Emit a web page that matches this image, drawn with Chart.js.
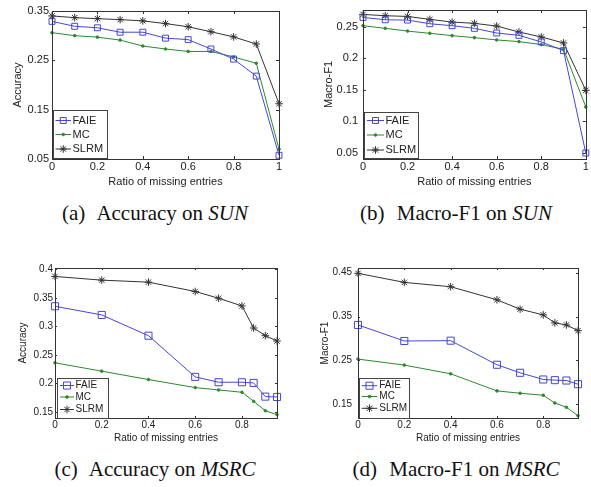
<!DOCTYPE html>
<html>
<head>
<meta charset="utf-8">
<script src="https://cdn.jsdelivr.net/npm/chart.js@4.4.0/dist/chart.umd.min.js"></script>
<style>
  body { margin: 0; background: #fff; width: 591px; height: 487px; position: relative; overflow: hidden; }
  canvas { position: absolute; }
  .cap { position: absolute; font-family: "Liberation Serif", "Times New Roman", serif; font-size: 21px;
         line-height: 21px; white-space: nowrap; transform: translateX(-50%); color: #111; }
  .cap b { font-weight: normal; margin-right: 7px; }
</style>
</head>
<body>
<canvas id="chartA" width="290" height="195" style="left:0;top:0"></canvas>
<canvas id="chartB" width="291" height="195" style="left:300px;top:0"></canvas>
<canvas id="chartC" width="290" height="200" style="left:0;top:245px"></canvas>
<canvas id="chartD" width="291" height="200" style="left:300px;top:245px"></canvas>

<div class="cap" style="left:155px;top:203px"><b>(a)</b> Accuracy on <i>SUN</i></div>
<div class="cap" style="left:456px;top:203px"><b>(b)</b> Macro-F1 on <i>SUN</i></div>
<div class="cap" style="left:155px;top:459px"><b>(c)</b> Accuracy on <i>MSRC</i></div>
<div class="cap" style="left:456px;top:459px"><b>(d)</b> Macro-F1 on <i>MSRC</i></div>

<script>
// ratio of missing entries
const xSun = [0, 0.1, 0.2, 0.3, 0.4, 0.5, 0.6, 0.7, 0.8, 0.9, 1];
const xMsrc = [0, 0.2, 0.4, 0.6, 0.7, 0.8, 0.85, 0.9, 0.95];

// (a) accuracy on SUN
const accSunFAIE = [0.329, 0.319, 0.316, 0.307, 0.307, 0.295, 0.292, 0.273, 0.2525, 0.218, 0.0575];
const accSunMC   = [0.306, 0.300, 0.297, 0.291, 0.279, 0.273, 0.268, 0.268, 0.257, 0.244, 0.070];
const accSunSLRM = [0.340, 0.3365, 0.3345, 0.3325, 0.330, 0.3245, 0.318, 0.308, 0.2975, 0.283, 0.162];

// (b) macro-F1 on SUN
const f1SunFAIE = [0.2647, 0.261, 0.2605, 0.2547, 0.2516, 0.2474, 0.240, 0.2363, 0.2258, 0.212, 0.0495];
const f1SunMC   = [0.2516, 0.2474, 0.243, 0.2395, 0.2358, 0.2326, 0.229, 0.2263, 0.2216, 0.2142, 0.1226];
const f1SunSLRM = [0.2695, 0.2674, 0.2663, 0.2616, 0.2574, 0.2553, 0.251, 0.2416, 0.2337, 0.2242, 0.149];

// (c) accuracy on MSRC
const accMsrcFAIE = [0.3354, 0.3202, 0.2838, 0.2116, 0.2022, 0.2022, 0.201, 0.177, 0.1764];
const accMsrcMC   = [0.2363, 0.2216, 0.2069, 0.1928, 0.1887, 0.1846, 0.1688, 0.1523, 0.1453];
const accMsrcSLRM = [0.3877, 0.3812, 0.3777, 0.3613, 0.3495, 0.336, 0.2973, 0.2838, 0.2744];

// (d) macro-F1 on MSRC
const f1MsrcFAIE = [0.3309, 0.2943, 0.295, 0.2401, 0.2218, 0.2065, 0.205, 0.2042, 0.1958];
const f1MsrcMC   = [0.253, 0.2393, 0.2195, 0.1805, 0.1752, 0.1706, 0.153, 0.1431, 0.124];
const f1MsrcSLRM = [0.4485, 0.4279, 0.418, 0.3882, 0.3668, 0.3538, 0.3355, 0.3309, 0.3179];

// tick labels
const xTicksSun = [0, 0.2, 0.4, 0.6, 0.8, 1];
const xTicksMsrc = [0, 0.2, 0.4, 0.6, 0.8];
const yTicksA = [0.05, 0.15, 0.25, 0.35];
const yTicksB = [0.05, 0.1, 0.15, 0.2, 0.25];
const yTicksC = [0.15, 0.2, 0.25, 0.3, 0.35, 0.4];
const yTicksD = [0.15, 0.25, 0.35, 0.45];

const FONT = '"Liberation Sans", Arial, sans-serif';
const TEXT = '#222';

// box around the axes, inward ticks, and the legend inside the plot
const framePlugin = {
  id: 'frame',
  afterDraw(chart, args, opts) {
    const { ctx, chartArea: a, scales } = chart;
    ctx.save();
    ctx.strokeStyle = '#333';
    ctx.lineWidth = 1;
    ctx.strokeRect(Math.round(a.left) + 0.5, Math.round(a.top) + 0.5,
      Math.round(a.right - a.left), Math.round(a.bottom - a.top));
    const tl = opts.tick;
    ctx.beginPath();
    scales.x.ticks.forEach(t => {
      const px = Math.round(scales.x.getPixelForValue(t.value)) + 0.5;
      ctx.moveTo(px, a.bottom); ctx.lineTo(px, a.bottom - tl);
      ctx.moveTo(px, a.top); ctx.lineTo(px, a.top + tl);
    });
    scales.y.ticks.forEach(t => {
      const py = Math.round(scales.y.getPixelForValue(t.value)) + 0.5;
      ctx.moveTo(a.left, py); ctx.lineTo(a.left + tl, py);
      ctx.moveTo(a.right, py); ctx.lineTo(a.right - tl, py);
    });
    ctx.stroke();

    const lg = opts.legend;
    ctx.fillStyle = '#fff';
    ctx.fillRect(lg.x, lg.y, lg.w, lg.h);
    ctx.strokeStyle = '#444';
    ctx.strokeRect(lg.x + 0.5, lg.y + 0.5, lg.w, lg.h);
    ctx.font = lg.size + 'px ' + FONT;
    ctx.textBaseline = 'middle';
    chart.data.datasets.forEach((ds, i) => {
      const y = lg.rows[i];
      ctx.strokeStyle = ds.borderColor;
      ctx.lineWidth = 1;
      ctx.beginPath();
      ctx.moveTo(lg.x1, y); ctx.lineTo(lg.x2, y);
      ctx.stroke();
      ctx.fillStyle = ds.pointBackgroundColor;
      Chart.helpers.drawPoint(ctx, { pointStyle: ds.pointStyle, radius: ds.pointRadius, borderWidth: 1, rotation: 0 },
        (lg.x1 + lg.x2) / 2, y);
      ctx.fillStyle = TEXT;
      ctx.fillText(ds.label, lg.tx, y);
    });
    ctx.restore();
  }
};

function series(xs, ys) {
  return xs.map((x, i) => ({ x: x, y: ys[i] }));
}

function makeChart(id, xs, faie, mc, slrm, g) {
  const ctx = document.getElementById(id).getContext('2d');
  const W = ctx.canvas.width, H = ctx.canvas.height;
  return new Chart(ctx, {
    type: 'line',
    data: {
      datasets: [
        { label: 'FAIE', data: series(xs, faie), borderColor: '#4646d6', borderWidth: 1,
          pointStyle: 'rect', pointRadius: g.sq, pointBorderWidth: 1,
          pointBorderColor: '#4646d6', pointBackgroundColor: 'rgba(255,255,255,0)' },
        { label: 'MC', data: series(xs, mc), borderColor: '#2b8a2b', borderWidth: 1,
          pointStyle: 'circle', pointRadius: 1.3, pointBorderWidth: 1,
          pointBorderColor: '#2b8a2b', pointBackgroundColor: '#2b8a2b' },
        { label: 'SLRM', data: series(xs, slrm), borderColor: '#333333', borderWidth: 1,
          pointStyle: 'star', pointRadius: g.star, pointBorderWidth: 1,
          pointBorderColor: '#333333', pointBackgroundColor: '#333333' }
      ]
    },
    options: {
      responsive: false,
      animation: false,
      clip: false,
      layout: { padding: { top: g.top, right: W - g.right, left: 0, bottom: 0 } },
      plugins: {
        legend: { display: false },
        tooltip: { enabled: false },
        frame: { tick: g.tick, legend: g.legend }
      },
      scales: {
        x: {
          type: 'linear', min: g.xmin, max: g.xmax,
          afterBuildTicks: s => { s.ticks = g.xticks.map(v => ({ value: v })); },
          afterFit: s => { s.height = H - g.bottom; s.paddingLeft = 0; s.paddingRight = 0; },
          grid: { display: false, drawTicks: false },
          border: { display: false },
          ticks: { padding: g.xpad, autoSkip: false, maxRotation: 0, color: TEXT,
                   font: { size: g.fs, family: FONT }, callback: v => String(v) },
          title: { display: true, text: 'Ratio of missing entries', color: TEXT,
                   font: { size: g.fs, family: FONT }, padding: { top: 0, bottom: g.xtitle } }
        },
        y: {
          type: 'linear', min: g.ymin, max: g.ymax,
          afterBuildTicks: s => { s.ticks = g.yticks.map(v => ({ value: v })); },
          afterFit: s => { s.width = g.left; s.paddingTop = 0; s.paddingBottom = 0; },
          grid: { display: false, drawTicks: false },
          border: { display: false },
          ticks: { padding: g.ypad, autoSkip: false, color: TEXT,
                   font: { size: g.fs, family: FONT }, callback: v => String(v) },
          title: { display: true, text: g.ytitle, color: TEXT,
                   font: { size: g.fs, family: FONT }, padding: { top: g.ytpad, bottom: 0 } }
        }
      }
    },
    plugins: [framePlugin]
  });
}

makeChart('chartA', xSun, accSunFAIE, accSunMC, accSunSLRM, {
  left: 52, top: 11, right: 279, bottom: 159, fs: 11, xpad: 1, xtitle: 6, ypad: 3, ytpad: 11,
  xmin: 0, xmax: 1, ymin: 0.05, ymax: 0.35, xticks: xTicksSun, yticks: yTicksA, ytitle: 'Accuracy',
  sq: 4.2, star: 3.8, tick: 3,
  legend: { x: 53, y: 110, w: 54, h: 48, rows: [120.5, 134.5, 149], x1: 55.5, x2: 71, tx: 72.5, size: 11 }
});

makeChart('chartB', xSun, f1SunFAIE, f1SunMC, f1SunSLRM, {
  left: 63, top: 10, right: 290, bottom: 159, fs: 11, xpad: 1, xtitle: 6, ypad: 5, ytpad: 22,
  xmin: 0, xmax: 1, ymin: 0.04, ymax: 0.2765, xticks: xTicksSun, yticks: yTicksB, ytitle: 'Macro-F1',
  sq: 4.2, star: 3.8, tick: 3,
  legend: { x: 64, y: 112, w: 54, h: 46, rows: [120.5, 135, 150], x1: 67, x2: 84, tx: 85.5, size: 11 }
});

makeChart('chartC', xMsrc, accMsrcFAIE, accMsrcMC, accMsrcSLRM, {
  left: 55, top: 23, right: 277, bottom: 173, fs: 10, xpad: 1, xtitle: 1, ypad: 2, ytpad: 17,
  xmin: 0, xmax: 0.95, ymin: 0.1395, ymax: 0.4025, xticks: xTicksMsrc, yticks: yTicksC, ytitle: 'Accuracy',
  sq: 5, star: 3.8, tick: 2,
  legend: { x: 57, y: 133, w: 51, h: 40, rows: [140.5, 152, 164.5], x1: 60, x2: 74, tx: 75.5, size: 10 }
});

makeChart('chartD', xMsrc, f1MsrcFAIE, f1MsrcMC, f1MsrcSLRM, {
  left: 58, top: 23, right: 278, bottom: 173, fs: 10, xpad: 1, xtitle: 1, ypad: 6, ytpad: 19,
  xmin: 0, xmax: 0.95, ymin: 0.1187, ymax: 0.4607, xticks: xTicksMsrc, yticks: yTicksD, ytitle: 'Macro-F1',
  sq: 5, star: 3.8, tick: 2,
  legend: { x: 59, y: 133, w: 50, h: 40, rows: [140.7, 151.5, 163.3], x1: 61.7, x2: 77.3, tx: 79.3, size: 10 }
});
</script>
</body>
</html>
